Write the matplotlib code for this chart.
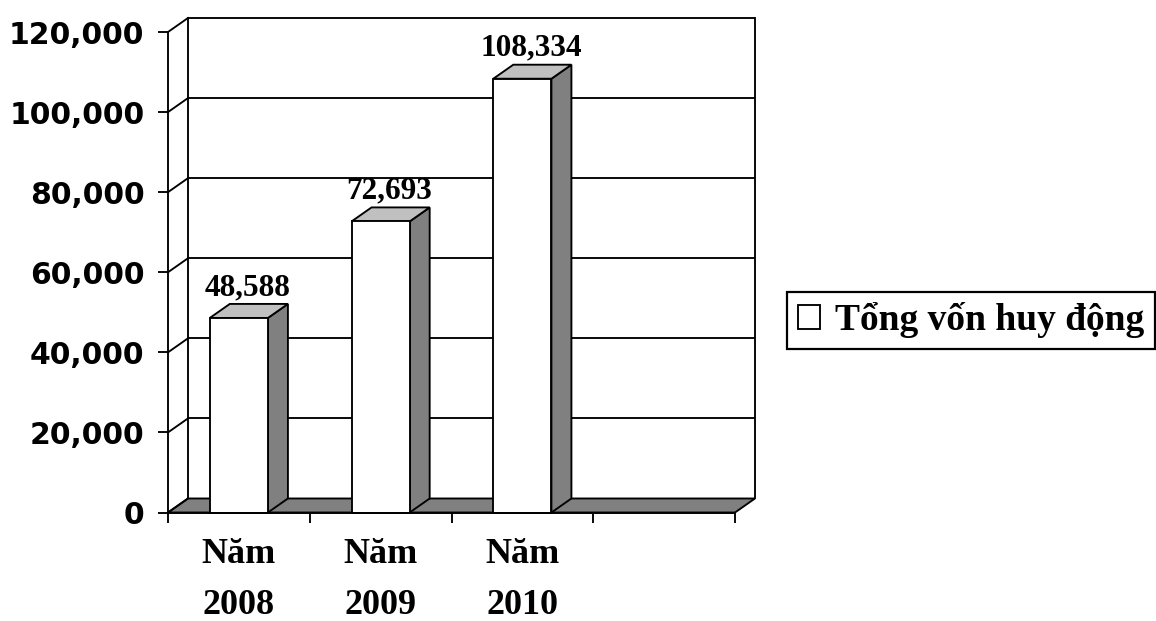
import matplotlib
matplotlib.use("Agg")
import matplotlib.pyplot as plt
from matplotlib.patches import Polygon, Patch

# Chart data
categories = ["Năm\n2008", "Năm\n2009", "Năm\n2010"]
values = [48588, 72693, 108334]
value_labels = ["48,588", "72,693", "108,334"]
series_name = "Tổng vốn huy động"
y_ticks = [0, 20000, 40000, 60000, 80000, 100000, 120000]
y_tick_labels = ["0", "20,000", "40,000", "60,000", "80,000", "100,000", "120,000"]

W, H = 1156, 621
fig = plt.figure(figsize=(W / 100, H / 100), dpi=100)
fig.patch.set_facecolor("white")
ax = fig.add_axes([168 / W, 1 - 512.5 / H, 567 / W, 480.5 / H])

n_slots = 4          # category slots on the floor (last one is empty)
ymax = 120000
dx = 0.141           # 3-D depth offset, category units
dy = 3500            # 3-D depth offset, value units
bar_w = 0.41
lw = 1.35
SIDE = "#808080"
TOP = "#c0c0c0"

ax.set_xlim(0, n_slots)
ax.set_ylim(0, ymax)
ax.set_facecolor("none")

# floor
ax.add_patch(Polygon([(0, 0), (n_slots, 0), (n_slots + dx, dy), (dx, dy)],
                     closed=True, fc=SIDE, ec="black", lw=lw, clip_on=False, zorder=1))

# back wall: gridlines and border
for v in y_ticks[1:]:
    ax.plot([dx, n_slots + dx], [v + dy, v + dy], color="black", lw=lw,
            clip_on=False, zorder=1.5, solid_capstyle="butt")
ax.plot([n_slots + dx, n_slots + dx], [dy, ymax + dy], color="black", lw=lw,
        clip_on=False, zorder=1.5)
# left wall: back edge and depth lines at every gridline
ax.plot([dx, dx], [dy, ymax + dy], color="black", lw=lw, clip_on=False, zorder=1.5)
for v in y_ticks:
    ax.plot([0, dx], [v, v + dy], color="black", lw=lw, clip_on=False, zorder=1.5)

# 3-D bars
for i, v in enumerate(values):
    xc = i + 0.5
    x0, x1 = xc - bar_w / 2, xc + bar_w / 2
    ax.add_patch(Polygon([(x1, 0), (x1 + dx, dy), (x1 + dx, v + dy), (x1, v)],
                         closed=True, fc=SIDE, ec="black", lw=lw, clip_on=False, zorder=3))
    ax.add_patch(Polygon([(x0, v), (x1, v), (x1 + dx, v + dy), (x0 + dx, v + dy)],
                         closed=True, fc=TOP, ec="black", lw=lw, clip_on=False, zorder=3))
    ax.text(xc + 0.06, v + dy + 2200, value_labels[i], ha="center", va="baseline",
            fontfamily="Liberation Serif", fontweight="bold", fontsize=22.5, zorder=5)

ax.bar([i + 0.5 for i in range(len(values))], values, width=bar_w,
       color="white", edgecolor="black", linewidth=lw, zorder=4, clip_on=False)

# axes lines and ticks
for s in ("top", "right"):
    ax.spines[s].set_visible(False)
for s in ("left", "bottom"):
    ax.spines[s].set_linewidth(lw)
    ax.spines[s].set_zorder(4.5)

ax.set_yticks(y_ticks)
ax.set_yticklabels(y_tick_labels, fontfamily="DejaVu Sans", fontweight="bold",
                   fontsize=21.5)
ax.tick_params(axis="y", length=7, width=lw, pad=10)

ax.set_xticks(range(n_slots + 1))
ax.set_xticklabels([])
ax.tick_params(axis="x", which="major", length=7, width=lw)
ax.set_xticks([i + 0.5 for i in range(len(categories))], minor=True)
ax.set_xticklabels(categories, minor=True, fontfamily="Liberation Serif",
                   fontweight="bold", fontsize=26, linespacing=1.72)
ax.tick_params(axis="x", which="minor", length=0, pad=18.5)

leg = fig.legend(handles=[Patch(fc="white", ec="black", lw=lw)], labels=[series_name],
                 loc="center left", bbox_to_anchor=(787 / W, 1 - 320.5 / H),
                 frameon=True, fancybox=False, edgecolor="black", framealpha=1,
                 borderaxespad=0, borderpad=0.28, handlelength=0.6, handleheight=0.6,
                 handletextpad=0.4,
                 prop=dict(family="Liberation Serif", weight="bold", size=27))
leg.get_frame().set_linewidth(1.6)

fig.savefig("out.png", dpi=100, facecolor="white")
